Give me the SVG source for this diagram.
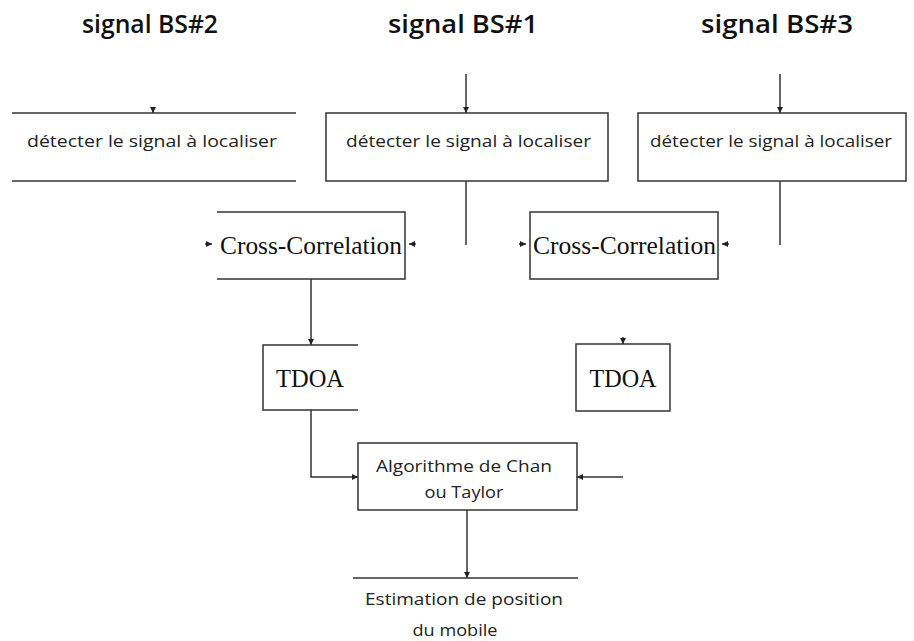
<svg xmlns="http://www.w3.org/2000/svg" width="914" height="641" viewBox="0 0 914 641">
<defs>
<marker id="ah" viewBox="0 0 10 10" refX="10" refY="5" markerWidth="6" markerHeight="6" markerUnits="userSpaceOnUse" orient="auto">
<path d="M0,0 L10,5 L0,10 z" fill="#222"/>
</marker>
<style>
.ln{stroke:#333;stroke-width:1.5;fill:none}
.bx{stroke:#333;stroke-width:1.5;fill:#fff}
.title{font-family:"Open Sans","Liberation Sans",sans-serif;font-size:25px;font-weight:600;fill:#111}
.sans{font-family:"Open Sans","Liberation Sans",sans-serif;font-size:17px;fill:#222}
.serif{font-family:"Liberation Serif","DejaVu Serif",serif;font-size:26px;fill:#111}
</style>
</defs>
<rect width="914" height="641" fill="#fff"/>
<g id="titles">
<text class="title" x="150" y="33" text-anchor="middle" textLength="136" lengthAdjust="spacingAndGlyphs">signal BS#2</text>
<text class="title" x="463" y="33" text-anchor="middle" textLength="150" lengthAdjust="spacingAndGlyphs">signal BS#1</text>
<text class="title" x="777" y="33" text-anchor="middle" textLength="152" lengthAdjust="spacingAndGlyphs">signal BS#3</text>
</g>
<g id="detect2">
<line class="ln" x1="12" y1="113" x2="296" y2="113"/>
<line class="ln" x1="12" y1="181" x2="296" y2="181"/>
<text class="sans" x="27" y="147" textLength="250" lengthAdjust="spacingAndGlyphs">détecter le signal à localiser</text>
</g>
<g id="detect1">
<rect class="bx" x="326" y="113" width="282" height="68"/>
<text class="sans" x="346" y="147" textLength="245" lengthAdjust="spacingAndGlyphs">détecter le signal à localiser</text>
</g>
<g id="detect3">
<rect class="bx" x="638" y="113" width="268" height="68"/>
<text class="sans" x="650" y="147" textLength="242" lengthAdjust="spacingAndGlyphs">détecter le signal à localiser</text>
</g>
<g id="xcorr1">
<path class="ln" d="M217,212 H405 V279 H217"/>
<text class="serif" x="220" y="254" textLength="182" lengthAdjust="spacingAndGlyphs">Cross-Correlation</text>
</g>
<g id="xcorr2">
<rect class="bx" x="530" y="212" width="188" height="67"/>
<text class="serif" x="533" y="254" textLength="183" lengthAdjust="spacingAndGlyphs">Cross-Correlation</text>
</g>
<g id="tdoa1">
<path class="ln" d="M358,345 H263 V410 H358"/>
<text class="serif" x="310" y="387" text-anchor="middle" textLength="68" lengthAdjust="spacingAndGlyphs">TDOA</text>
</g>
<g id="tdoa2">
<rect class="bx" x="576" y="344" width="94" height="67"/>
<text class="serif" x="623" y="387" text-anchor="middle" textLength="67" lengthAdjust="spacingAndGlyphs">TDOA</text>
</g>
<g id="algo">
<rect class="bx" x="358" y="443" width="219" height="67"/>
<text class="sans" x="464" y="472" text-anchor="middle" textLength="176" lengthAdjust="spacingAndGlyphs">Algorithme de Chan</text>
<text class="sans" x="464" y="498" text-anchor="middle" textLength="79" lengthAdjust="spacingAndGlyphs">ou Taylor</text>
</g>
<g id="estimation">
<line class="ln" x1="353" y1="578" x2="578" y2="578"/>
<text class="sans" x="464" y="605" text-anchor="middle" textLength="198" lengthAdjust="spacingAndGlyphs">Estimation de position</text>
<text class="sans" x="455" y="636" text-anchor="middle" textLength="85" lengthAdjust="spacingAndGlyphs">du mobile</text>
</g>
<g id="connectors">
<line class="ln" x1="153" y1="107" x2="153" y2="113" marker-end="url(#ah)"/>
<line class="ln" x1="466" y1="74" x2="466" y2="113" marker-end="url(#ah)"/>
<line class="ln" x1="780" y1="74" x2="780" y2="113" marker-end="url(#ah)"/>
<line class="ln" x1="466" y1="181" x2="466" y2="245"/>
<line class="ln" x1="780" y1="181" x2="780" y2="245"/>
<line class="ln" x1="205" y1="244" x2="212" y2="244" marker-end="url(#ah)"/>
<line class="ln" x1="416" y1="244" x2="409" y2="244" marker-end="url(#ah)"/>
<line class="ln" x1="519" y1="244" x2="526" y2="244" marker-end="url(#ah)"/>
<line class="ln" x1="729" y1="244" x2="722" y2="244" marker-end="url(#ah)"/>
<line class="ln" x1="311" y1="279" x2="311" y2="345" marker-end="url(#ah)"/>
<line class="ln" x1="623" y1="337" x2="623" y2="344" marker-end="url(#ah)"/>
<path class="ln" d="M311,410 V477 H358" marker-end="url(#ah)"/>
<line class="ln" x1="623" y1="477" x2="577" y2="477" marker-end="url(#ah)"/>
<line class="ln" x1="467" y1="510" x2="467" y2="578" marker-end="url(#ah)"/>
</g>
</svg>
